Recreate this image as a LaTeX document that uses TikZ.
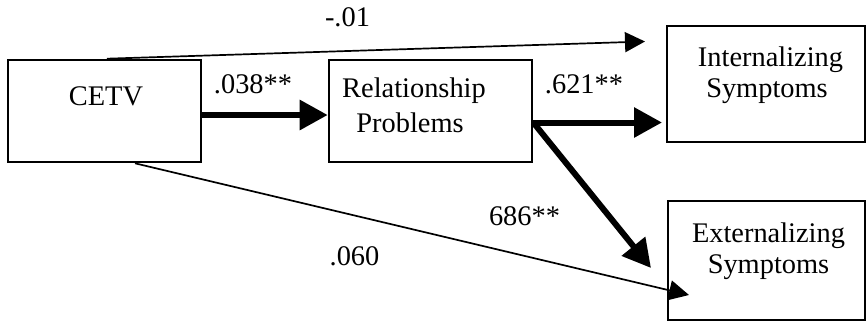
\documentclass[tikz,border=0pt]{standalone}
\usepackage{fontspec}
\setmainfont{Liberation Serif}
\usetikzlibrary{arrows.meta}
\begin{document}
\begin{tikzpicture}[x=0.5pt,y=-0.5pt,
  box/.style={draw, line width=1.3pt, inner sep=0pt},
  txt/.style={anchor=base, inner sep=0pt, font=\fontsize{14.2}{17}\selectfont},
  thinarrow/.style={line width=0.85pt, -{Triangle[length=10pt,width=10pt]}},
  thickarrow/.style={line width=3pt, -{Triangle[length=14pt,width=14.5pt]}}
]
\useasboundingbox (0,0) rectangle (867,322);
% boxes
\node[box, minimum width=96.5pt, minimum height=51pt] (cetv) at (104.5,111) {};
\node[box, minimum width=101.5pt, minimum height=51pt] (rel) at (430.5,111) {};
\node[box, minimum width=99pt, minimum height=58pt] (int) at (766,84) {};
\node[box, minimum width=98.5pt, minimum height=59.5pt] (ext) at (766.5,260.5) {};
% box texts
\node[txt] (cetvtxt) at (106,105) {CETV};
\node[txt] (relA) at (414,97) {Relationship};
\node[txt] (relB) at (410,132) {Problems};
\node[txt] (intA) at (770.5,66) {Internalizing};
\node[txt] (intB) at (767,97) {Symptoms};
\node[txt] (extA) at (768.5,242) {Externalizing};
\node[txt] (extB) at (768.5,273) {Symptoms};
% free arrow ends
\coordinate (t1) at (645,41.5);
\coordinate (t2) at (662,122.5);
\coordinate (t3) at (651,268);
\coordinate (t4) at (689,295);
% connectors
\draw[thinarrow] ([xshift=1.2pt]cetv.north) -- (t1);
\draw[thickarrow] ([yshift=-2pt]cetv.east) -- ([yshift=-2pt]rel.west);
\draw[thickarrow] ([yshift=-5.75pt]rel.east) -- (t2);
\draw[thickarrow] ([yshift=-5.75pt]rel.east) -- (t3);
\draw[thinarrow] ([xshift=15.25pt]cetv.south) -- (t4);
% coefficient labels
\node[txt] (l1) at (347.5,26.5) {-.01};
\node[txt] (l2) at (253,93) {.038**};
\node[txt] (l3) at (584,93) {.621**};
\node[txt] (l4) at (524.5,225) {686**};
\node[txt] (l5) at (354.5,265) {.060};
\end{tikzpicture}
\end{document}
